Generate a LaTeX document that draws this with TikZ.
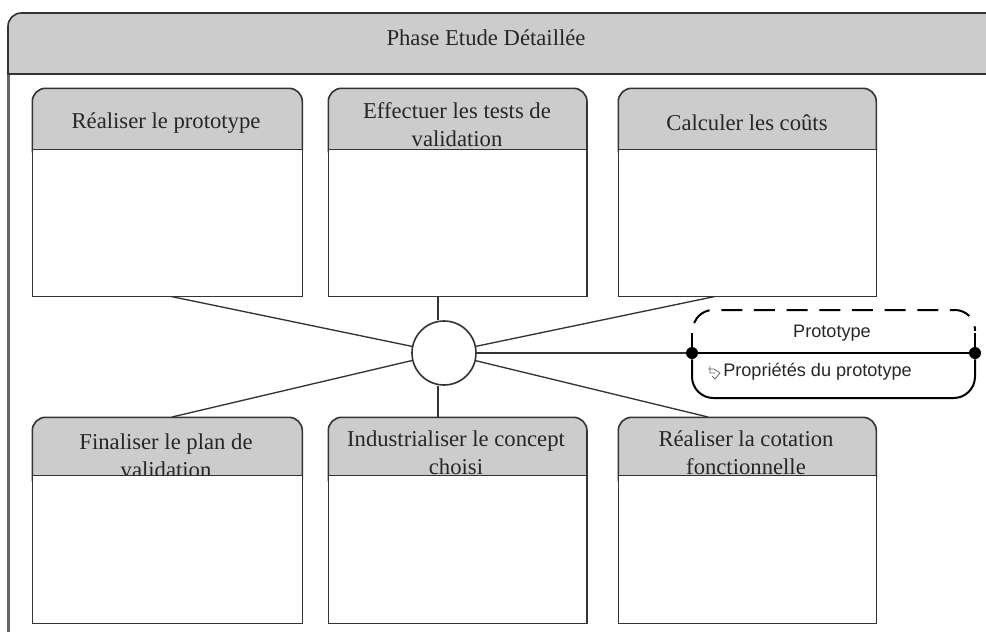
\documentclass[tikz,border=0pt]{standalone}
\usepackage{fontspec}
\setmainfont{Liberation Serif}
\setsansfont{Liberation Sans}
\definecolor{headgray}{HTML}{CCCCCC}
\definecolor{linegray}{HTML}{333333}
\tikzset{
  boxline/.style={draw=linegray,line width=1.2pt},
  framehead/.style={boxline,fill=headgray},
  boxhead/.style={boxline,fill=headgray,rectangle,rounded corners=10pt,inner sep=0pt,anchor=north west,minimum height=55.75pt},
  boxbody/.style={boxline,fill=white,rectangle,inner sep=0pt,anchor=north west},
  boxtitle/.style={align=center,text=black!85,inner sep=0pt,font=\fontsize{17}{21}\selectfont},
  link/.style={draw=linegray,line width=1pt},
  hub/.style={boxline,fill=white,circle,inner sep=0pt,minimum size=48pt},
  joint/.style={fill=black,circle,inner sep=0pt,minimum size=9pt},
  proto/.style={draw=black,line width=1.5pt},
  prototext/.style={text=black!85,inner sep=0pt,font=\sffamily\fontsize{13.6}{16}\selectfont}
}
\begin{document}
\begin{tikzpicture}[x=.75pt,y=-.75pt]
\useasboundingbox (0,0) rectangle (986,632);
\clip (0,0) rectangle (986,632);

% frame
\draw [boxline,black!60,line width=1.6pt] (8.5,74) -- (8.5,640);
\draw [framehead] (8,74) [rounded corners=10pt] -- (8,13) [sharp corners] -- (1000,13) -- (1000,74) -- cycle;
\node [boxtitle] (phase) at (486,38) {Phase Etude Détaillée};

% connectors
\node [hub] (center) at (444,353) {};
\coordinate (endA) at (164,295);
\coordinate (endB) at (438,296);
\coordinate (endC) at (722,295);
\coordinate (endD) at (172,417);
\coordinate (endE) at (438,417);
\coordinate (endF) at (708,417);
\node [joint] (jointL) at (692,353) {};
\node [joint] (jointR) at (975,353) {};
\draw [link] (center) -- (endA);
\draw [link] (endB) -- (endB |- center.north);
\draw [link] (center) -- (endC);
\draw [link] (center) -- (endD);
\draw [link] (endE) -- (endE |- center.south);
\draw [link] (center) -- (endF);
\draw [link] (center) -- (jointL);

% upper row
\node [boxhead,minimum width=202.5pt] (headA) at (31.5,87.5) {};
\node [boxtitle] (titleA) at (166,123) {Réaliser le prototype};
\node [boxbody,minimum width=202.5pt,minimum height=110.25pt] (bodyA) at (31.5,148.5) {};

\node [boxhead,minimum width=194pt] (headB) at (327.5,87.5) {};
\node [boxtitle] (titleB) at (457,125) {Effectuer les tests de\\validation};
\node [boxbody,minimum width=194pt,minimum height=110.25pt] (bodyB) at (327.5,148.5) {};

\node [boxhead,minimum width=193.5pt] (headC) at (617.5,87.5) {};
\node [boxtitle] (titleC) at (747,123) {Calculer les coûts};
\node [boxbody,minimum width=193.5pt,minimum height=110.25pt] (bodyC) at (617.5,148.5) {};

% lower row
\node [boxhead,minimum width=202.5pt] (headD) at (31.5,416.5) {};
\node [boxtitle] (titleD) at (166,456) {Finaliser le plan de\\validation};
\node [boxbody,minimum width=202.5pt,minimum height=111pt] (bodyD) at (31.5,474.5) {};

\node [boxhead,minimum width=194pt] (headE) at (327.5,416.5) {};
\node [boxtitle] (titleE) at (456,453) {Industrialiser le concept\\choisi};
\node [boxbody,minimum width=194pt,minimum height=111pt] (bodyE) at (327.5,474.5) {};

\node [boxhead,minimum width=193.5pt] (headF) at (617.5,416.5) {};
\node [boxtitle] (titleF) at (746,453) {Réaliser la cotation\\fonctionnelle};
\node [boxbody,minimum width=193.5pt,minimum height=111pt] (bodyF) at (617.5,474.5) {};

% prototype
\draw [proto,rounded corners=15pt,dash pattern=on 15.75pt off 8.75pt,dash phase=18.5pt] (693,331) -- (693,310) -- (975,310) -- (975,331);
\draw [proto] (jointL) -- (692,333);
\draw [proto] (jointR) -- (975,333);
\draw [proto,line width=1.2pt] (jointL) -- (jointR);
\draw [proto,rounded corners=16pt] (jointL) -- (692,398) -- (975,398) -- (jointR);
\node [prototext] (protoName) at (832,333) {Prototype};
\node [prototext,anchor=west] (protoProps) at (723,372) {Propriétés du prototype};
\draw [black!60,line width=.6pt] (710,366) -- (710,373) -- (715,373) (708,369) -- (714,369) -- (720,373) -- (715,379) -- (712,376);
\end{tikzpicture}
\end{document}
